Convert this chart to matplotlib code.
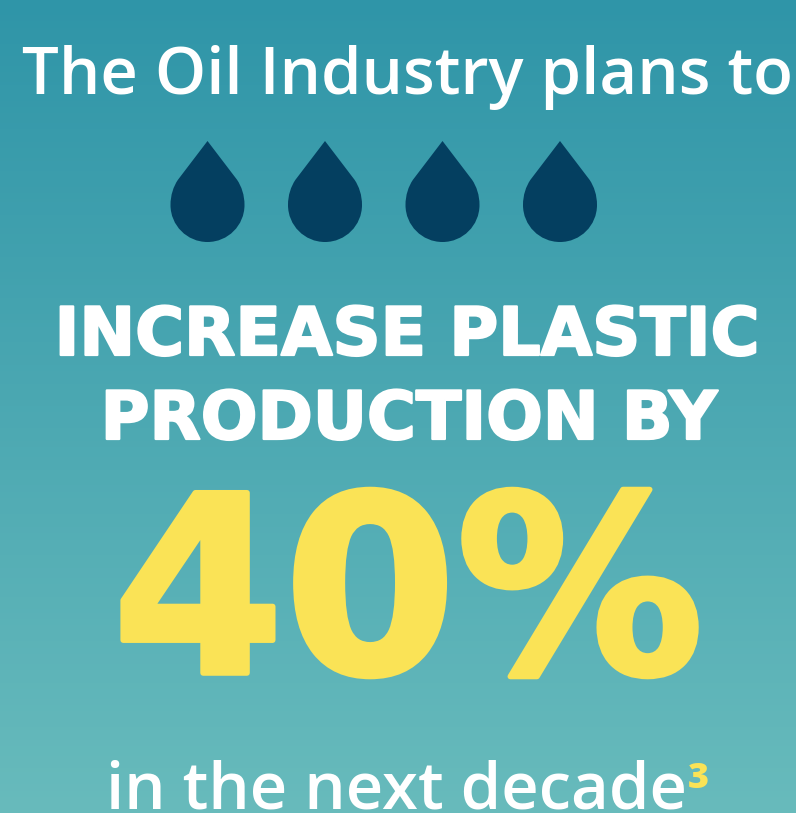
import numpy as np
import matplotlib
matplotlib.use("Agg")
import matplotlib.pyplot as plt
import matplotlib.patheffects as pe
from matplotlib.path import Path
from matplotlib.patches import PathPatch
from matplotlib.colors import LinearSegmentedColormap

W, H = 796, 813

# text of the poster
top_line = "The Oil Industry plans to"
headline = ["INCREASE PLASTIC", "PRODUCTION BY"]
big_value = "40%"
bottom_line = "in the next decade"
footnote = "3"

# four drops, centre x and the top / bottom of each one
drop_x = [207.5, 325, 442.5, 560]
drop_top = 141
drop_bottom = 242
drop_half_width = 37

bg_colors = ["#2F95A8", "#68BBBC"]
drop_color = "#043F60"
yellow = "#FAE356"


def drop_path(cx):
    r = drop_half_width
    cy = drop_bottom - r
    k = r * 0.5523
    verts = [
        (cx, drop_top),
        (cx + r * 0.8, cy - r * 0.68),
        (cx + r * 0.92, cy - r * 0.5), (cx + r, cy - r * 0.27), (cx + r, cy),
        (cx + r, cy + k), (cx + k, cy + r), (cx, cy + r),
        (cx - k, cy + r), (cx - r, cy + k), (cx - r, cy),
        (cx - r, cy - r * 0.27), (cx - r * 0.92, cy - r * 0.5), (cx - r * 0.8, cy - r * 0.68),
        (cx, drop_top),
    ]
    codes = [Path.MOVETO, Path.LINETO,
             Path.CURVE4, Path.CURVE4, Path.CURVE4,
             Path.CURVE4, Path.CURVE4, Path.CURVE4,
             Path.CURVE4, Path.CURVE4, Path.CURVE4,
             Path.CURVE4, Path.CURVE4, Path.CURVE4,
             Path.CLOSEPOLY]
    return Path(verts, codes)


def main():
    fig = plt.figure(figsize=(W / 100, H / 100), dpi=100)
    ax = fig.add_axes([0, 0, 1, 1])
    ax.set_xlim(0, W)
    ax.set_ylim(H, 0)
    ax.axis("off")

    cmap = LinearSegmentedColormap.from_list("bg", bg_colors)
    ax.imshow(np.linspace(0, 1, 256).reshape(-1, 1), cmap=cmap, aspect="auto",
              extent=(0, W, H, 0), zorder=0)

    for cx in drop_x:
        ax.add_patch(PathPatch(drop_path(cx), fc=drop_color, ec="none", zorder=2))

    ax.text(407, 94, top_line, family="Open Sans", fontsize=47, color="white",
            ha="center", va="baseline", fontweight="semibold")

    # wide heavy caps, a thin stroke brings them closer to the original weight
    thick = [pe.withStroke(linewidth=1.6, foreground="white")]
    ax.text(407, 355, headline[0], family="DejaVu Sans", fontsize=48, color="white",
            ha="center", va="baseline", fontweight="bold", path_effects=thick)
    ax.text(409, 439, headline[1], family="DejaVu Sans", fontsize=48, color="white",
            ha="center", va="baseline", fontweight="bold", path_effects=thick)
    ax.text(408, 673, big_value, family="DejaVu Sans", fontsize=178, color=yellow,
            ha="center", va="baseline", fontweight="bold",
            path_effects=[pe.withStroke(linewidth=4, foreground=yellow)])
    ax.text(397, 808, bottom_line, family="Open Sans", fontsize=47, color="white",
            ha="center", va="baseline", fontweight="semibold")
    ax.text(698, 788, footnote, family="Open Sans", fontsize=26, color=yellow,
            ha="center", va="baseline", fontweight="extra bold")

    fig.savefig("out.png", dpi=100)


if __name__ == "__main__":
    main()
